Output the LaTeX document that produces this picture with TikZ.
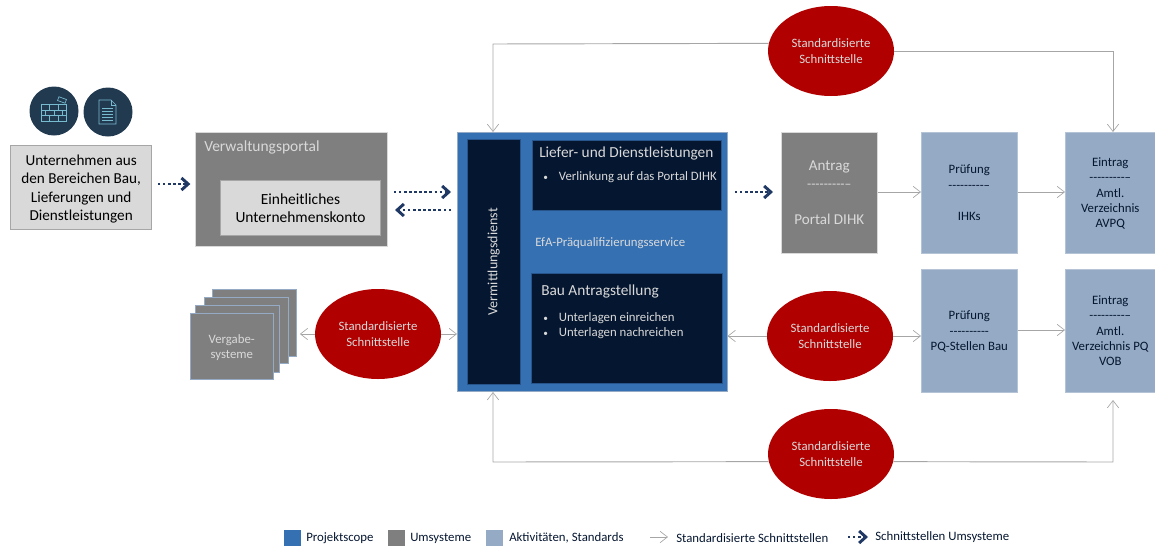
\documentclass[tikz,border=0pt]{standalone}
\usepackage{fontspec}
\setmainfont{Carlito}
\usetikzlibrary{arrows.meta,calc,shapes.geometric}

\definecolor{scopeblue}{HTML}{3570B2}
\definecolor{umgrey}{HTML}{7F7F7F}
\definecolor{lightgrey}{HTML}{D9D9D9}
\definecolor{navy}{HTML}{051630}
\definecolor{stdblue}{HTML}{95AAC4}
\definecolor{darkred}{HTML}{B00000}
\definecolor{iconblue}{HTML}{223A50}
\definecolor{linegrey}{HTML}{A6A6A6}
\definecolor{dotblue}{HTML}{1F3864}

\newcommand{\dashsix}{-{}-{}-{}-{}-{}-{}-{}-{}-{}-}
\newcommand{\itemdot}{\makebox[11.7pt][l]{\fontsize{7}{7}\selectfont•}}

\tikzset{
  size/.style 2 args={minimum width=#1*0.75pt, minimum height=#2*0.75pt},
  box/.style={anchor=north west, inner sep=0pt, align=center, text depth=0pt},
  greybox/.style={box, fill=umgrey, draw=lightgrey, line width=0.4pt, text=lightgrey},
  lightbox/.style={box, fill=lightgrey, draw=linegrey, line width=1pt, text=black},
  stdbox/.style={box, fill=stdblue, draw=stdblue!70!white, line width=0.4pt, text=navy, font=\fontsize{9.6}{11.5}\selectfont},
  navybox/.style={box, fill=navy, draw=scopeblue!70!navy, line width=0.4pt, text=white},
  redell/.style={ellipse, fill=darkred, text=lightgrey, inner sep=0pt, align=center, text depth=0pt,
    minimum width=94.5pt, minimum height=67.5pt, font=\fontsize{9.6}{11.4}\selectfont},
  plain/.style={inner sep=0pt, align=left},
  legtext/.style={plain, anchor=west, text=navy, font=\fontsize{9.6}{11}\selectfont},
  std/.style={draw=linegrey, line width=0.7pt, -{Straight Barb[length=5.5pt,width=8.5pt,line width=0.5pt]}},
  dots/.style={draw=dotblue, line width=1.8pt, dash pattern=on 1.8pt off 2pt,
    -{Straight Barb[length=5pt,width=9pt,line width=2.2pt]}},
  iconline/.style={draw=stdblue!80!cyan, line width=0.5pt},
}

\begin{document}
\begin{tikzpicture}[x=0.75pt,y=-0.75pt]
\useasboundingbox (0,0) rectangle (1155,546);

% linke Seite
\node[circle, fill=iconblue, minimum size=36.75pt, inner sep=0pt] (wall) at (54,111) {};
\node[circle, fill=iconblue, minimum size=36.75pt, inner sep=0pt] (doc) at (108,112) {};
\draw[iconline] (41,104) rectangle (66,121);
\draw[iconline] (41,110) -- (66,110) (41,115) -- (66,115);
\draw[iconline] (49,104) -- (49,110) (58,104) -- (58,110) (45,110) -- (45,115)
  (54,110) -- (54,115) (62,110) -- (62,115) (49,115) -- (49,121) (58,115) -- (58,121);
\draw[iconline, rotate around={-20:(62,100)}] (58,98) rectangle (66,102);
\draw[iconline] (99,124) -- (99,100) -- (111,100) -- (116,105) -- (116,124) -- cycle;
\draw[iconline] (111,100) -- (111,105) -- (116,105);
\foreach \y in {108,111,114,117,120}
  \draw[iconline] (102,\y) -- (113,\y);

\node[lightbox, size={141}{84}, font=\fontsize{11.4}{13.7}\selectfont] (firm) at (10,145)
  {Unternehmen aus\\den Bereichen Bau,\\Lieferungen und\\Dienstleistungen};

\node[greybox, size={192}{114}] (portal) at (195,132) {};
\node[plain, anchor=west, text=lightgrey, font=\fontsize{11.6}{13}\selectfont] (portaltext) at (204,147) {Verwaltungsportal};
\node[lightbox, size={160}{55}, line width=0.8pt, font=\fontsize{11.6}{13.7}\selectfont] (konto) at (220,180)
  {Einheitliches\\Unternehmenskonto};

% Vergabesysteme
\node[greybox, size={84}{67}, draw=stdblue] (verg4) at (212,289) {};
\node[greybox, size={84}{66}, draw=stdblue] (verg3) at (204,297) {};
\node[greybox, size={84}{67}, draw=stdblue] (verg2) at (195,305) {};
\node[greybox, size={83}{66}, draw=stdblue, font=\fontsize{9.6}{11.4}\selectfont] (verg1) at (190,313) {Vergabe-\\systeme};

% Projektscope
\node[box, fill=scopeblue, draw=stdblue, line width=0.4pt, size={270}{259}] (scope) at (457,132) {};
\node[navybox, size={53}{245}] (verm) at (467,139) {};
\node[plain, rotate=90, text=lightgrey, font=\fontsize{10.5}{12}\selectfont] (vermtext) at (verm.center) {Vermittlungsdienst};
\node[navybox, size={189}{70}] (liefer) at (532,140) {};
\node[plain, anchor=west, text=lightgrey, font=\fontsize{11.5}{13}\selectfont] (liefertext) at (539,153) {Liefer- und Dienstleistungen};
\node[plain, anchor=west, text=lightgrey, font=\fontsize{9.6}{11}\selectfont] (lieferitem) at (543,177.5) {\itemdot Verlinkung auf das Portal DIHK};
\node[plain, anchor=west, text=lightgrey, font=\fontsize{9.6}{11}\selectfont] (efa) at (535,243) {EfA-Präqualifizierungsservice};
\node[navybox, size={191}{110}] (bau) at (531,273) {};
\node[plain, anchor=west, text=lightgrey, font=\fontsize{11.5}{13}\selectfont] (bautext) at (541,291) {Bau Antragstellung};
\node[plain, anchor=north west, text=lightgrey, font=\fontsize{9.6}{11.4}\selectfont] (bauitem) at (543,312)
  {\itemdot Unterlagen einreichen\\\itemdot Unterlagen nachreichen};

% rechte Seite
\node[greybox, size={96}{121}, font=\fontsize{11.3}{14}\selectfont] (antrag) at (781,132)
  {Antrag\\{\fontsize{10.2}{10}\selectfont \dashsix-}\\[13pt]Portal DIHK};
\node[stdbox, size={96}{121}] (pruef1) at (921,132) {Prüfung\\\dashsix-\\[12pt]IHKs};
\node[stdbox, size={90}{121}] (eintrag1) at (1065,132) {Eintrag\\\dashsix-\\Amtl.\\Verzeichnis\\AVPQ};
\node[stdbox, size={96}{123}] (pruef2) at (921,269) {Prüfung\\\dashsix\\PQ-Stellen Bau};
\node[stdbox, size={90}{123}] (eintrag2) at (1065,269) {Eintrag\\\dashsix-\\Amtl.\\Verzeichnis PQ\\VOB};

% Schnittstellen
\node[redell] (elltop) at (831,51) {Standardisierte\\Schnittstelle};
\node[redell] (ellmid) at (830,336) {Standardisierte\\Schnittstelle};
\node[redell] (ellbot) at (831,454) {Standardisierte\\Schnittstelle};
\node[redell] (ellverg) at (378,334) {Standardisierte\\Schnittstelle};

\coordinate (topin) at (493,132);
\coordinate (botin) at (493,392);
\coordinate (eintragtop) at (1113,132);
\coordinate (eintragbot) at (1113,400);

\draw[std] (elltop.173.6) -- (493,44) -- (topin);
\draw[std] (elltop.east) -- (1113,51) -- (eintragtop);
\draw[std] (ellbot.187.35) -- (493,462) -- (botin);
\draw[std] (ellbot.-7.35) -- (1113,462) -- (eintragbot);
\draw[std] (ellmid.west) -- (scope.east |- ellmid.west);
\draw[std] (ellmid.east) -- (pruef2.west |- ellmid.east);
\draw[std, shorten >=2.5pt] (ellverg.west) -- (verg4.east |- ellverg.west);
\draw[std] (ellverg.east) -- (scope.west |- ellverg.east);
\draw[std] (antrag.east |- 0,192) -- (pruef1.west |- 0,192);
\draw[std] (pruef1.east |- 0,192) -- (eintrag1.west |- 0,192);
\draw[std] (pruef2.east |- 0,330) -- (eintrag2.west |- 0,330);

% Schnittstellen Umsysteme
\coordinate (firmout) at (158,184);
\coordinate (scopein) at (451,192);
\coordinate (scopeout) at (451,210);
\coordinate (scoperight) at (735,192);
\draw[dots, shorten >=3.5pt] (firmout) -- (portal.west |- firmout);
\draw[dots] (394,192) -- (scopein);
\draw[dots] (scopeout) -- (395,210);
\draw[dots, shorten >=6pt] (scoperight) -- (antrag.west |- scoperight);

% Legende
\node[box, fill=scopeblue, size={17}{16}] (legscope) at (284,530) {};
\node[legtext] (legscopetext) at (306,538) {Projektscope};
\node[box, fill=umgrey, size={17}{16}] (legum) at (388,530) {};
\node[legtext] (legumtext) at (410,538) {Umsysteme};
\node[box, fill=stdblue, size={17}{16}] (legstd) at (486,530) {};
\node[legtext] (legstdtext) at (509,538) {Aktivitäten, Standards};
\node[legtext] (legarrtext) at (676,538) {Standardisierte Schnittstellen};
\node[legtext] (legdottext) at (875,537) {Schnittstellen Umsysteme};
\coordinate (legarr) at (650,537);
\coordinate (legdot) at (848,537);
\draw[std] (legarr) -- (668,537);
\draw[dots] (legdot) -- (868,537);

\end{tikzpicture}
\end{document}
